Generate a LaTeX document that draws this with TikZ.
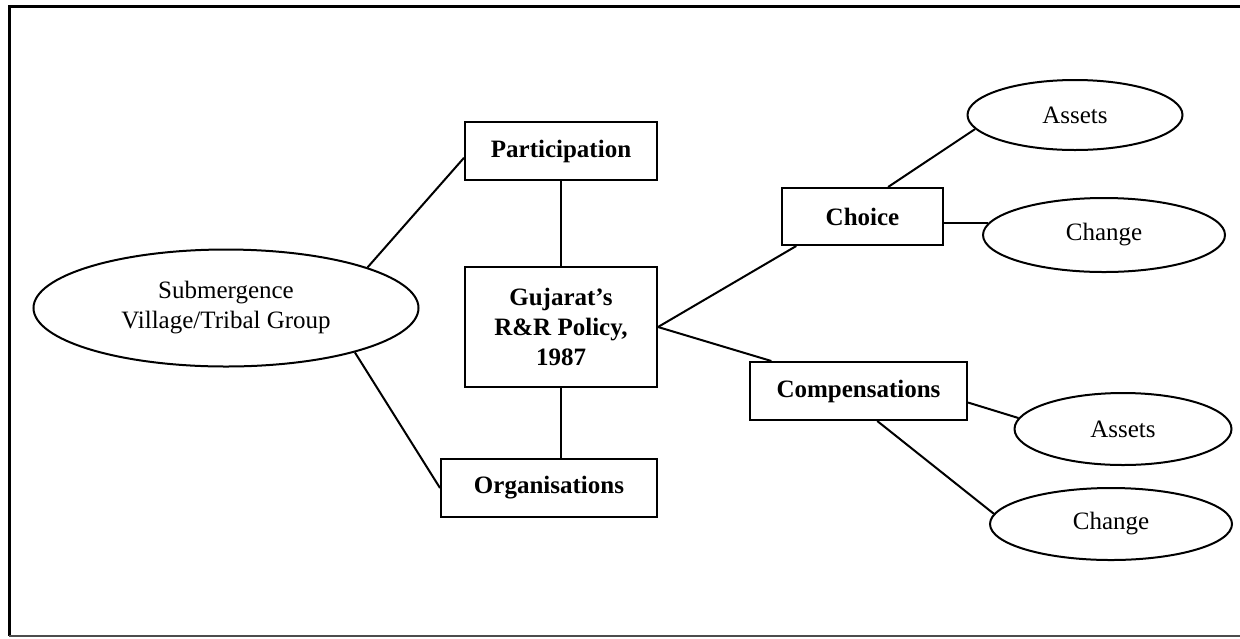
\documentclass[tikz,border=0pt]{standalone}
\usepackage{fontspec}
\setmainfont{Liberation Serif}
\usetikzlibrary{shapes.geometric,calc}
\begin{document}
\begin{tikzpicture}[x=0.5pt,y=-0.5pt,
  conn/.style={line width=1pt},
  boxnode/.style={draw,line width=1pt,rectangle,inner sep=0pt,align=center,font=\fontsize{12.5}{15}\selectfont\bfseries},
  ovalnode/.style={draw,line width=1pt,ellipse,inner sep=0pt,align=center,font=\fontsize{12.5}{15}\selectfont}]
\useasboundingbox (0,0) rectangle (1240,638);
% frame
\draw[line width=1.5pt] (1240,6) -- (9,6) -- (9,636);
\draw[line width=1.2pt,black!70] (9,636) -- (1240,636);
% nodes
\node[ovalnode,minimum width=192.5pt,minimum height=58.5pt] (sub) at (226,308) {Submergence\\Village/Tribal Group};
\node[boxnode,minimum width=96pt,minimum height=29pt] (part) at (561,151) {Participation};
\node[boxnode,minimum width=96pt,minimum height=60pt] (guj) at (561,327) {Gujarat’s\\R\&R Policy,\\1987};
\node[boxnode,minimum width=108pt,minimum height=29pt] (org) at (549,488) {Organisations};
\node[boxnode,minimum width=80.5pt,minimum height=28.5pt] (choice) at (862.5,216.5) {Choice};
\node[boxnode,minimum width=108.5pt,minimum height=29pt] (comp) at (858.5,391) {Compensations};
\node[ovalnode,minimum width=107.5pt,minimum height=35pt] (assetsA) at (1075,115) {Assets};
\node[ovalnode,minimum width=121pt,minimum height=37pt] (changeA) at (1104,235) {Change};
\node[ovalnode,minimum width=108.5pt,minimum height=36pt] (assetsB) at (1123,429) {Assets};
\node[ovalnode,minimum width=121pt,minimum height=36pt] (changeB) at (1111,524) {Change};
% connectors
\draw[conn] (sub.16) -- (part.184);
\draw[conn] (sub.341) -- (org.west);
\draw[conn] (part.south) -- (guj.north);
\draw[conn] (guj.south) -- (guj.south |- org.north);
\draw[conn] (guj.east) -- (choice.204);
\draw[conn] (guj.east) -- (comp.161);
\draw[conn] (choice.49) -- (assetsA.188);
\draw[conn] (changeA.174) -- (changeA.174 -| choice.east);
\draw[conn] (comp.354) -- (assetsB.174);
\draw[conn] (comp.302) -- (changeB.175);
\end{tikzpicture}
\end{document}
